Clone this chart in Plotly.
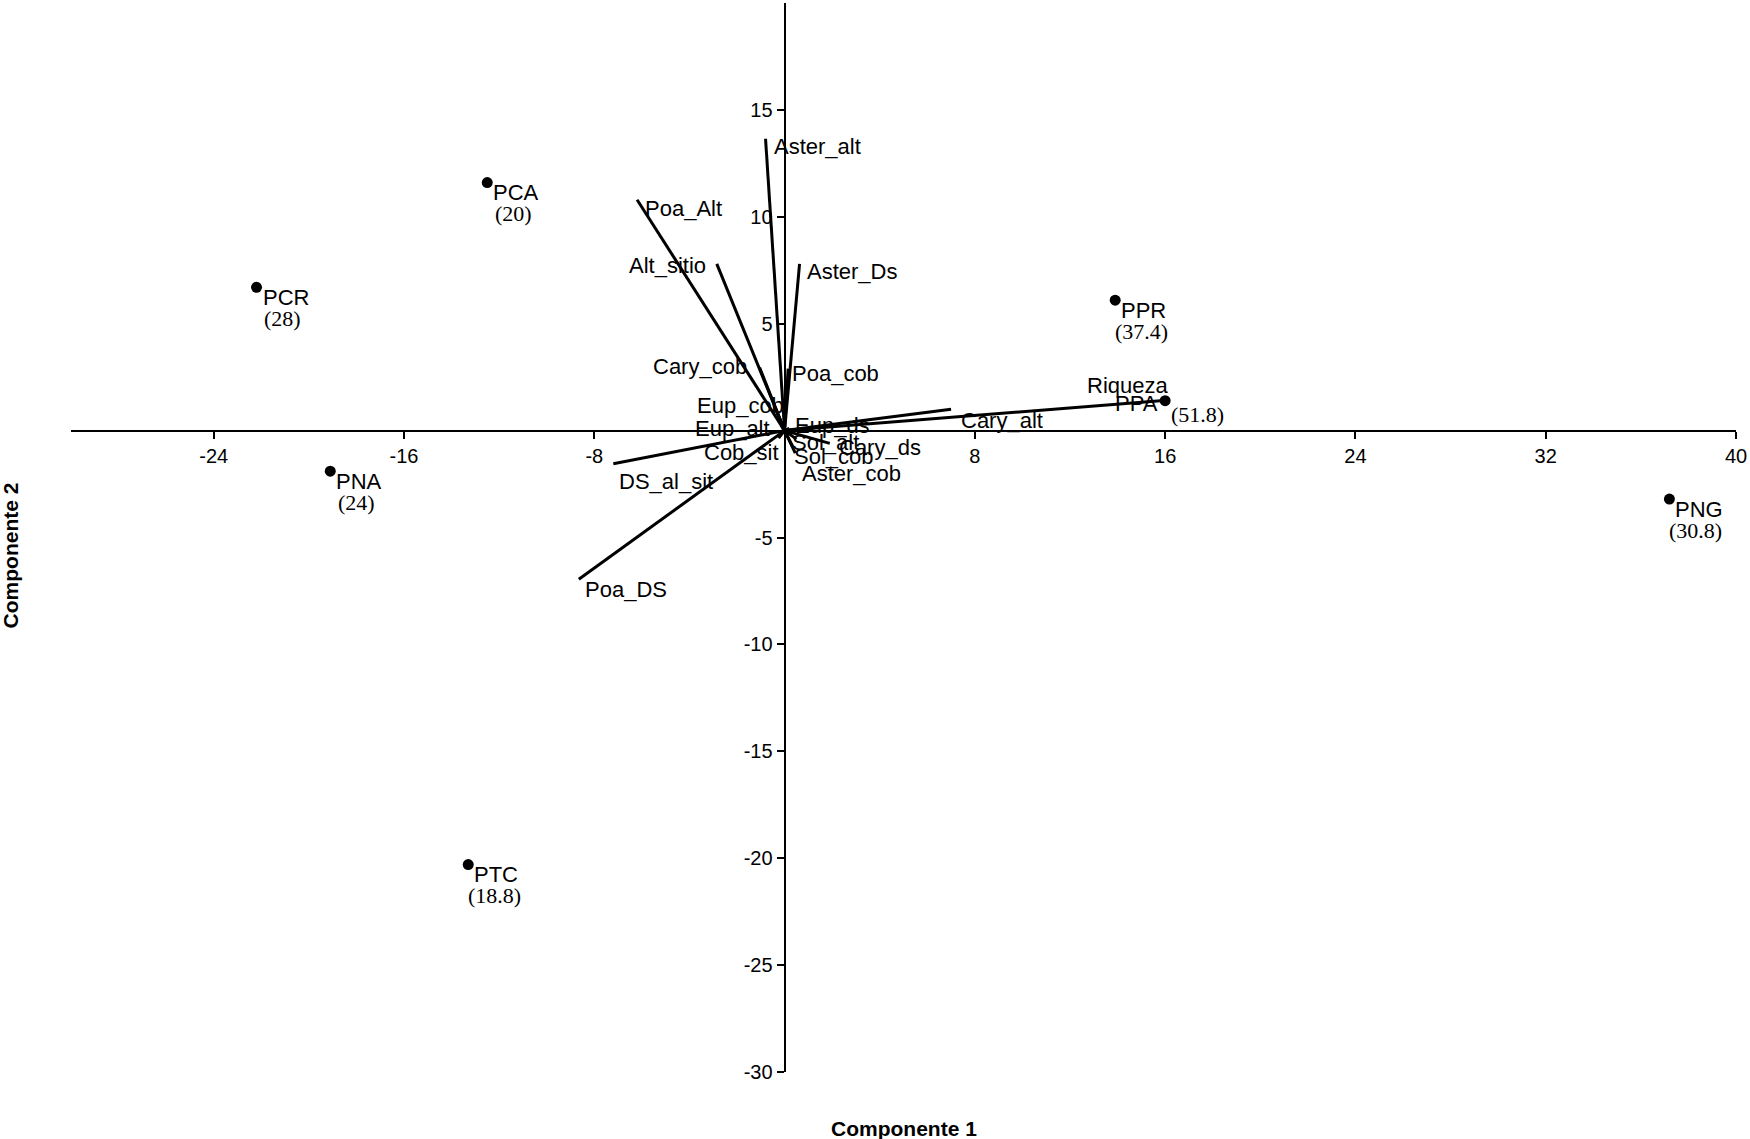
import plotly.graph_objects as go

# site scores
sites = ["PCR", "PCA", "PNA", "PTC", "PPR", "PPA", "PNG"]
site_x = [-22.2, -12.5, -19.1, -13.3, 13.9, 16.0, 37.2]
site_y = [6.7, 11.6, -1.9, -20.3, 6.1, 1.4, -3.2]
site_val = ["(28)", "(20)", "(24)", "(18.8)", "(37.4)", "(51.8)", "(30.8)"]

# variable loadings (vector ends)
variables = ["Aster_alt", "Poa_Alt", "Alt_sitio", "Aster_Ds", "Cary_cob", "Poa_cob",
             "Eup_cob", "Eup_alt", "Eup_ds", "Cary_alt", "Riqueza", "DS_al_sit",
             "Poa_DS", "Cob_sit", "Sol_alt", "Sol_cob", "Cary_ds", "Aster_cob"]
var_x = [-0.8, -6.2, -2.85, 0.63, -1.05, 0.15, -0.45, -0.15, 0.2, 7.0, 15.8, -7.2,
         -8.65, -0.25, 0.5, 0.35, 1.9, 0.45]
var_y = [13.65, 10.8, 7.8, 7.8, 2.95, 2.9, 1.2, 0.25, 0.1, 1.0, 1.4, -1.55,
         -6.95, -0.35, -0.4, -0.75, -0.6, -1.05]

x_ticks = [-24, -16, -8, 8, 16, 24, 32, 40]
x_ticktext = ["-24", "-16", "-8", "8", "16", "24", "32", "40"]
y_ticks = [15, 10, 5, -5, -10, -15, -20, -25, -30]
y_ticktext = ["15", "10", "5", "-5", "-10", "-15", "-20", "-25", "-30"]

x_range = [-30, 40]
y_range = [-30, 20]

# label placement: xanchor, xshift, yshift (pixels)
var_label_pos = {
    "Aster_alt": ("left", 6, -8), "Poa_Alt": ("left", 6, -9),
    "Alt_sitio": ("right", -9, -2), "Aster_Ds": ("left", 5, -8),
    "Cary_cob": ("right", -11, 1), "Poa_cob": ("left", 2, -5),
    "Eup_cob": ("right", 12, -1), "Eup_alt": ("right", -9, -3),
    "Eup_ds": ("left", 4, 3), "Cary_alt": ("left", 8, -11),
    "Riqueza": ("right", 10, 15), "DS_al_sit": ("left", 4, -18),
    "Poa_DS": ("left", 4, -10), "Cob_sit": ("right", 2, -14),
    "Sol_alt": ("left", -6, -3), "Sol_cob": ("left", -1, -10),
    "Cary_ds": ("left", 7, -4), "Aster_cob": ("left", 5, -20),
}

sans = "Liberation Sans, Arial, sans-serif"
serif = "Liberation Serif, Times New Roman, serif"

fig = go.Figure()

# vectors from origin
lx, ly = [], []
for vx, vy in zip(var_x, var_y):
    lx += [0, vx, None]
    ly += [0, vy, None]
fig.add_trace(go.Scatter(x=lx, y=ly, mode="lines",
                         line=dict(color="black", width=3),
                         hoverinfo="skip", showlegend=False))

fig.add_trace(go.Scatter(x=site_x, y=site_y, mode="markers",
                         marker=dict(color="black", size=11),
                         text=sites, showlegend=False))

for name, vx, vy in zip(variables, var_x, var_y):
    anc, dx, dy = var_label_pos[name]
    fig.add_annotation(x=vx, y=vy, text=name, showarrow=False,
                       xanchor=anc, yanchor="middle", xshift=dx, yshift=dy,
                       font=dict(family=sans, size=22, color="black"))

for name, sx, sy, val in zip(sites, site_x, site_y, site_val):
    if name == "PPA":
        fig.add_annotation(x=sx, y=sy, text=name, showarrow=False,
                           xanchor="right", yanchor="middle", xshift=-5, yshift=-3,
                           font=dict(family=sans, size=22, color="black"))
        fig.add_annotation(x=sx, y=sy, text=val, showarrow=False,
                           xanchor="left", yanchor="middle", xshift=4, yshift=-14,
                           font=dict(family=serif, size=22, color="black"))
    else:
        fig.add_annotation(x=sx, y=sy, text=name, showarrow=False,
                           xanchor="left", yanchor="middle", xshift=4, yshift=-10,
                           font=dict(family=sans, size=22, color="black"))
        fig.add_annotation(x=sx, y=sy, text=val, showarrow=False,
                           xanchor="center", yanchor="middle", xshift=26, yshift=-31,
                           font=dict(family=serif, size=22, color="black"))

# axis titles
fig.add_annotation(x=0.5, y=-0.053, xref="paper", yref="paper", text="<b>Componente 1</b>",
                   showarrow=False, xanchor="center", yanchor="middle",
                   font=dict(family=sans, size=21, color="black"))
fig.add_annotation(x=-0.0362, y=0.483, xref="paper", yref="paper", text="<b>Componente 2</b>",
                   showarrow=False, textangle=-90, xanchor="center", yanchor="middle",
                   font=dict(family=sans, size=21, color="black"))

fig.update_layout(
    width=1750, height=1139,
    margin=dict(l=71, r=14, t=3, b=67),
    plot_bgcolor="white", paper_bgcolor="white",
    font=dict(family=sans, size=20, color="black"),
    xaxis=dict(range=x_range, anchor="free", position=(0 - y_range[0]) / (y_range[1] - y_range[0]),
               showgrid=False, zeroline=False, showline=True, linecolor="black", linewidth=2,
               ticks="outside", ticklen=7, tickwidth=2, tickcolor="black",
               tickvals=x_ticks, ticktext=x_ticktext, automargin=False),
    yaxis=dict(range=y_range, anchor="free", position=(0 - x_range[0]) / (x_range[1] - x_range[0]),
               showgrid=False, zeroline=False, showline=True, linecolor="black", linewidth=2,
               ticks="outside", ticklen=7, tickwidth=2, tickcolor="black",
               tickvals=y_ticks, ticktext=y_ticktext, automargin=False),
)

fig.write_html("out.html", config={"displayModeBar": False},
               post_script="document.body.style.margin='0';")
